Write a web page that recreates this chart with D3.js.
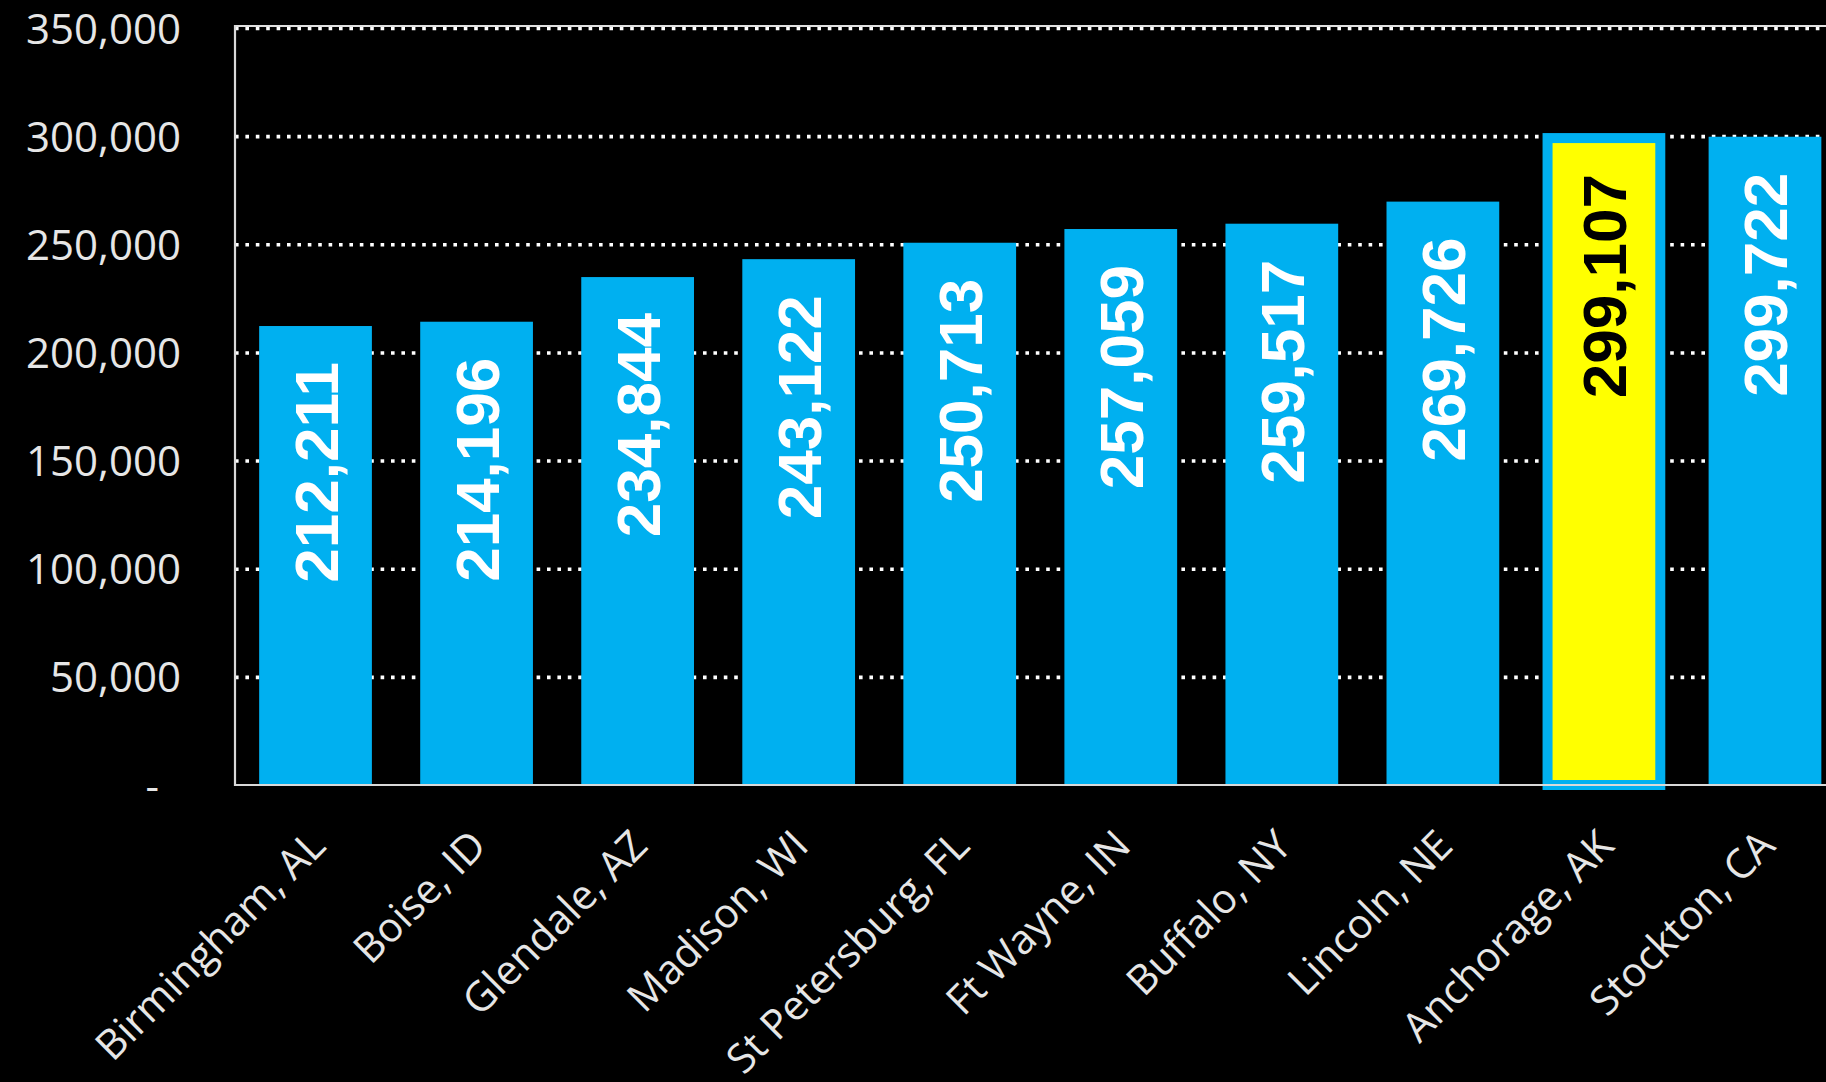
<!DOCTYPE html>
<html>
<head>
<meta charset="utf-8">
<script src="https://cdn.jsdelivr.net/npm/d3@7"></script>
<style>
  html, body { margin: 0; padding: 0; background: #000; }
  svg { display: block; }
</style>
</head>
<body>
<svg id="chart" width="1826" height="1082"></svg>
<script>
// City populations, sorted ascending
const cities = ["Birmingham, AL", "Boise, ID", "Glendale, AZ", "Madison, WI", "St Petersburg, FL",
                "Ft Wayne, IN", "Buffalo, NY", "Lincoln, NE", "Anchorage, AK", "Stockton, CA"];
const population = [212211, 214196, 234844, 243122, 250713, 257059, 259517, 269726, 299107, 299722];
const highlighted = "Anchorage, AK";
const yTicks = [0, 50000, 100000, 150000, 200000, 250000, 300000, 350000];
const yTickLabels = ["-", "50,000", "100,000", "150,000", "200,000", "250,000", "300,000", "350,000"];

(function draw() {
  const W = 1826, H = 1082;
  const plotLeft = 235, plotTop = 28, plotBottom = 785;
  const step = 161.05;

  const svg = d3.select("#chart");
  svg.append("rect").attr("width", W).attr("height", H).attr("fill", "#000");

  const x = d3.scaleBand()
    .domain(cities)
    .range([plotLeft, plotLeft + step * cities.length])
    .paddingInner(0.3)
    .paddingOuter(0.15);

  const y = d3.scaleLinear().domain([0, 350000]).range([plotBottom, plotTop]);

  // dotted horizontal gridlines
  const yGrid = d3.axisLeft(y).tickValues(yTicks.filter(d => d > 0))
    .tickSize(-(W - plotLeft)).tickFormat("");
  const grid = svg.append("g").attr("transform", `translate(${plotLeft},0)`).call(yGrid);
  grid.select(".domain").remove();
  grid.selectAll(".tick line")
    .attr("stroke", "#ffffff")
    .attr("stroke-width", 3.6)
    .attr("stroke-dasharray", "3.6,6.8");

  // plot area top border
  svg.append("line").attr("x1", plotLeft).attr("x2", W).attr("y1", plotTop - 2).attr("y2", plotTop - 2)
    .attr("stroke", "#e0e0e0").attr("stroke-width", 2);

  // y axis labels
  const yAxis = d3.axisLeft(y).tickValues(yTicks).tickSize(0).tickPadding(0)
    .tickFormat((d, i) => yTickLabels[i]);
  const ya = svg.append("g").attr("transform", `translate(${plotLeft - 54},0)`).call(yAxis);
  ya.select(".domain").remove();
  ya.selectAll(".tick text")
    .attr("fill", "#e6e6e6")
    .attr("font-family", "'Open Sans', 'Noto Sans', sans-serif")
    .attr("font-size", 42)
    .attr("dy", "0.36em")
    .attr("x", d => d === 0 ? -22 : 0);

  // bars
  svg.append("g").selectAll("rect")
    .data(cities)
    .join("rect")
    .attr("x", d => x(d))
    .attr("y", (d, i) => y(population[i]))
    .attr("width", x.bandwidth())
    .attr("height", (d, i) => plotBottom - y(population[i]))
    .attr("fill", d => d === highlighted ? "#ffff00" : "#00b0f0")
    .attr("stroke", d => d === highlighted ? "#00b0f0" : "none")
    .attr("stroke-width", d => d === highlighted ? 10 : 0);

  // axis lines
  svg.append("line").attr("x1", plotLeft).attr("x2", plotLeft).attr("y1", plotTop - 3).attr("y2", plotBottom + 1)
    .attr("stroke", "#d9d9d9").attr("stroke-width", 2.2);
  svg.append("line").attr("x1", plotLeft).attr("x2", W).attr("y1", plotBottom).attr("y2", plotBottom)
    .attr("stroke", "#d9d9d9").attr("stroke-width", 2.2);

  // value labels inside the bars, rotated
  const fmt = d3.format(",");
  svg.append("g").selectAll("text")
    .data(cities)
    .join("text")
    .attr("transform", (d, i) => `translate(${x(d) + x.bandwidth() / 2},${y(population[i]) + 36}) rotate(-90)`)
    .attr("text-anchor", "end")
    .attr("dy", "0.36em")
    .attr("font-family", "'Liberation Sans', Arial, sans-serif")
    .attr("font-weight", "bold")
    .attr("font-size", 62)
    .attr("fill", d => d === highlighted ? "#000" : "#fff")
    .text((d, i) => fmt(population[i]));

  // category labels, rotated 45 degrees
  const xAxis = d3.axisBottom(x).tickSize(0).tickPadding(0);
  const xa = svg.append("g").attr("transform", `translate(0,${plotBottom})`).call(xAxis);
  xa.select(".domain").remove();
  xa.selectAll(".tick text")
    .attr("fill", "#e6e6e6")
    .attr("font-family", "'Open Sans', 'Noto Sans', sans-serif")
    .attr("font-size", 41)
    .attr("text-anchor", "end")
    .attr("y", 0)
    .attr("dy", 0)
    .attr("transform", "translate(12,63) rotate(-45)");
})();
</script>
</body>
</html>
